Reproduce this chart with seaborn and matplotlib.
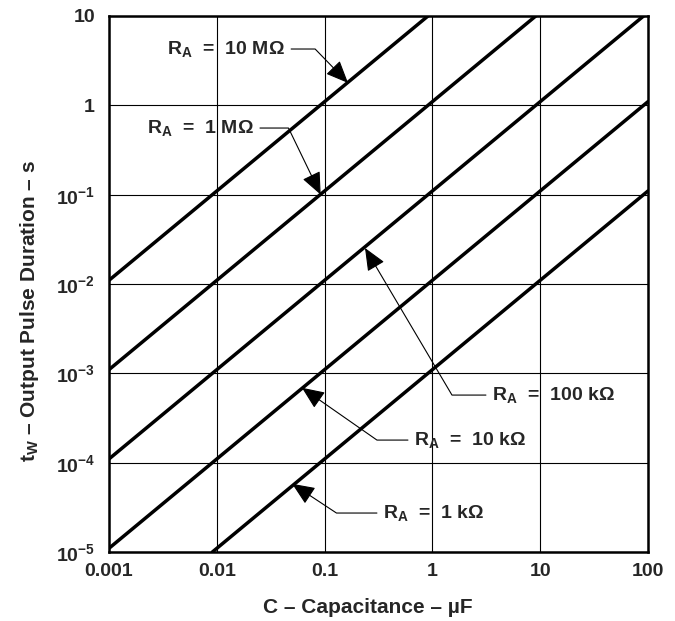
import numpy as np
import pandas as pd
import matplotlib
matplotlib.use("Agg")
import matplotlib.pyplot as plt
import seaborn as sns

# ---- data (C in uF, t in s) ----
series_names = ["10 M", "1 M", "100 k", "10 k", "1 k"]
C_10M = [0.001, 0.91];   t_10M = [0.011, 10.0]
C_1M = [0.001, 9.1];     t_1M = [0.0011, 10.0]
C_100k = [0.001, 91.0];  t_100k = [1.1e-4, 10.0]
C_10k = [0.001, 100.0];  t_10k = [1.1e-5, 1.1]
C_1k = [0.0091, 100.0];  t_1k = [1.0e-5, 0.11]

x_ticks = [0.001, 0.01, 0.1, 1, 10, 100]
x_ticklabels = ["0.001", "0.01", "0.1", "1", "10", "100"]
y_ticks = [1e-5, 1e-4, 1e-3, 1e-2, 1e-1, 1, 10]
y_ticklabels = [r"$\mathregular{10^{-5}}$", r"$\mathregular{10^{-4}}$", r"$\mathregular{10^{-3}}$",
                r"$\mathregular{10^{-2}}$", r"$\mathregular{10^{-1}}$", "1", "10"]

labels = [r"R$_\mathregular{A}$  =  10 M$\Omega$", r"R$_\mathregular{A}$  =  1 M$\Omega$",
          r"R$_\mathregular{A}$  =  100 k$\Omega$", r"R$_\mathregular{A}$  =  10 k$\Omega$",
          r"R$_\mathregular{A}$  =  1 k$\Omega$"]
# annotation arrow tips (C, t), text anchors (C, t)
tips = [(0.165, 1.78), (0.092, 0.10), (0.237, 0.0253), (0.0616, 6.9e-4), (0.05, 5.8e-5)]
text_pos = [(0.043, 4.27), (0.0221, 0.557), (3.57, 5.71e-4), (0.675, 1.79e-4), (0.348, 2.73e-5)]
leader_angles = [134.1, 115.8, -59.4, -34.9, -33.4]
text_side = ["right", "right", "left", "left", "left"]

sns.set_style("white")
plt.rcParams["font.family"] = ["Liberation Sans", "DejaVu Sans"]
plt.rcParams["font.weight"] = "bold"
plt.rcParams["mathtext.fontset"] = "custom"
plt.rcParams["mathtext.rm"] = "Liberation Sans:bold"
plt.rcParams["mathtext.bf"] = "Liberation Sans:bold"
plt.rcParams["mathtext.it"] = "Liberation Sans:bold"
plt.rcParams["mathtext.sf"] = "Liberation Sans:bold"

frames = []
for name, c, t in zip(series_names,
                      [C_10M, C_1M, C_100k, C_10k, C_1k],
                      [t_10M, t_1M, t_100k, t_10k, t_1k]):
    frames.append(pd.DataFrame({"C": c, "t": t, "R": name}))
df = pd.concat(frames, ignore_index=True)

fig = plt.figure(figsize=(6.75, 6.21), dpi=100)
ax = fig.add_axes([109 / 675, 1 - 552 / 621, (648 - 109) / 675, (552 - 16) / 621])

ax.set_xscale("log")
ax.set_yscale("log")
ax.set_xlim(0.001, 100)
ax.set_ylim(1e-5, 10)

sns.lineplot(data=df, x="C", y="t", units="R", estimator=None, color="black",
             linewidth=2.5, legend=False, ax=ax, zorder=3)

ax.set_xticks(x_ticks)
ax.set_xticklabels(x_ticklabels)
ax.set_yticks(y_ticks)
ax.set_yticklabels(y_ticklabels)
ax.minorticks_off()
ax.tick_params(axis="both", length=0, labelsize=14)
ax.tick_params(axis="x", pad=8)
ax.tick_params(axis="y", pad=10)
for lab in ax.get_xticklabels() + ax.get_yticklabels():
    lab.set_fontweight("bold")

ax.grid(True, which="major", color="black", linewidth=0.8)
for s in ax.spines.values():
    s.set_linewidth(1.8)
    s.set_color("black")

ax.set_xlabel("C \u2013 Capacitance \u2013 \u00b5F", fontsize=15, fontweight="bold")
ax.set_ylabel("t$_\\mathregular{W}$ \u2013 Output Pulse Duration \u2013 s",
              fontsize=15, fontweight="bold")
ax.xaxis.set_label_coords(0.481, -0.085)
ax.yaxis.set_label_coords(-0.126, 0.45)

for lab, tip, tp, ang, side in zip(labels, tips, text_pos, leader_angles, text_side):
    relx = 1.0 if side == "right" else 0.0
    ax.annotate(lab, xy=tip, xytext=tp, xycoords="data", textcoords="data",
                ha=side, va="center", fontsize=14, fontweight="bold", zorder=5,
                arrowprops=dict(arrowstyle="-|>,head_length=0.7,head_width=0.3",
                                mutation_scale=20, color="black", lw=0.8,
                                connectionstyle=f"angle,angleA=0,angleB={ang},rad=0",
                                relpos=(relx, 0.5), shrinkA=2, shrinkB=0))

fig.savefig("out.png", dpi=100)
